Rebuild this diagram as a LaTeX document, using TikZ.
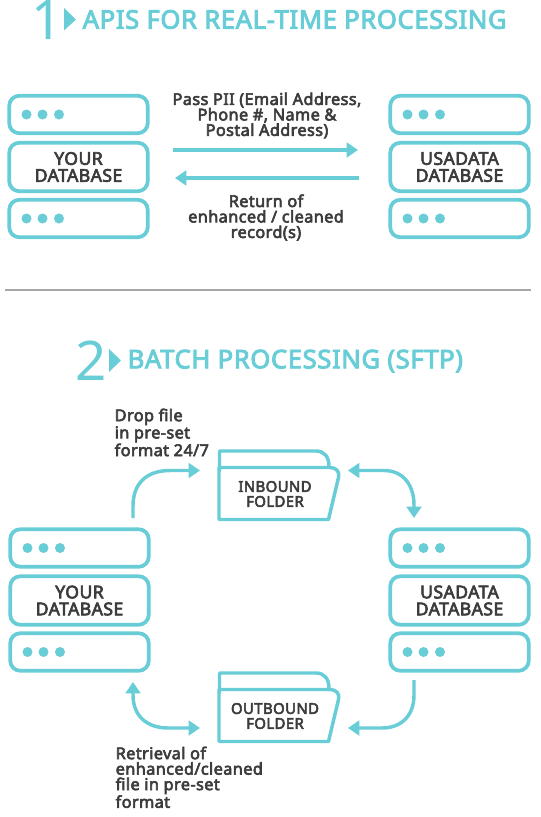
\documentclass[tikz,border=0pt]{standalone}
\usepackage{fontspec}
\setmainfont{Noto Sans}
\newfontfamily\semifont{Noto Sans}[FakeBold=3.6,LetterSpace=2.5]
\usetikzlibrary{arrows.meta}
\definecolor{teal1}{HTML}{68CDD6}
\definecolor{ink}{HTML}{3C3C3E}
\tikzset{
  server/.style={draw=teal1,line width=2.8pt,rounded corners=7.5pt,inner sep=0pt,fill=white,
    minimum width=138.5*0.75pt,text=ink,align=center,font=\fontsize{13.2}{12.7}\selectfont\semifont},
  lamp/.style={circle,fill=teal1,inner sep=0pt,minimum size=7.5pt},
  flow/.style={draw=teal1,line width=2.6pt,rounded corners=0pt},
  tipend/.style={-{Triangle[length=8.5pt,width=11pt]}},
  tipboth/.style={{Triangle[length=8.5pt,width=11pt]}-{Triangle[length=8.5pt,width=11pt]}},
  note/.style={text=ink,font=\fontsize{12.2}{11.6}\selectfont\semifont},
  foldertext/.style={text=ink,align=center,font=\fontsize{11.2}{11.2}\selectfont\semifont},
  folderline/.style={draw=teal1,line width=2.6pt,line join=round},
  heading/.style={text=teal1,anchor=west,font=\fontsize{19.2}{22}\selectfont\semifont},
  bignum/.style={text=teal1,anchor=center,font=\fontsize{41}{41}\selectfont},
}
\newcommand{\serverstack}[4]{% prefix, x centre, top y, database label
  \node[server,minimum height=37.5*0.75pt] (#1top) at (#2,#3+19.5) {};
  \node[server,minimum height=48.5*0.75pt] (#1mid) at (#2,#3+72) {#4};
  \node[server,minimum height=37.5*0.75pt] (#1bot) at (#2,#3+123.5) {};
  \foreach \row in {top,bot}
    \foreach \n/\dx in {a/-52,b/-36,c/-19.5}
      \node[lamp] (#1\row\n) at ([xshift=\dx*0.75pt]#1\row.center) {};
}
\newcommand{\folder}[2]{% name, y of top edge
  \draw[folderline] (219.5,#2+22) -- (219.5,#2+1.5) -- (316,#2+1.5)
    .. controls (324,#2+1.5) and (329,#2+7) .. (329,#2+17);
  \draw[folderline] (219,#2+18) -- (330,#2+18) .. controls (336,#2+18) and (340,#2+22) .. (338.5,#2+28)
    -- (328.5,#2+70) -- (219,#2+70) -- cycle;
}
\begin{document}
\begin{tikzpicture}[x=0.75pt,y=-0.75pt]
  \useasboundingbox (0,0) rectangle (540,817);

  % Section 1 heading
  \node[bignum] (numone) at (47,20) {1};
  \fill[teal1] (64,8) -- (76,19.5) -- (64,30.5) -- cycle;
  \node[heading] (titleone) at (78,19.5) {APIS FOR REAL-TIME PROCESSING};

  % Real-time servers
  \serverstack{ya}{78.5}{95}{YOUR\\DATABASE}
  \serverstack{ua}{459.5}{95}{USADATA\\DATABASE}

  % Real-time exchange
  \coordinate (passL) at (173,150);
  \coordinate (passR) at (358,150);
  \coordinate (backR) at (359,178);
  \coordinate (backL) at (175,178);
  \draw[flow,tipend] (passL) -- (passR);
  \draw[flow,tipend] (backR) -- (backL);
  \node[note,align=center] (passnote) at (267,115.5) {Pass PII (Email Address,\\Phone \#, Name \&\\Postal Address)};
  \node[note,align=center] (backnote) at (266,217.5) {Return of\\enhanced / cleaned\\record(s)};

  \draw[draw=black!35,line width=1.1pt] (5,290) -- (531,290);

  % Section 2 heading
  \node[bignum] (numtwo) at (91,361) {2};
  \fill[teal1] (109,349) -- (121,360.5) -- (109,372) -- cycle;
  \node[heading] (titletwo) at (123,361) {BATCH PROCESSING (SFTP)};

  % Batch servers
  \serverstack{yb}{79.5}{528.5}{YOUR\\DATABASE}
  \serverstack{ub}{459.5}{528.5}{USADATA\\DATABASE}

  % Folders
  \folder{inbound}{449.5}
  \folder{outbound}{671.5}
  \node[foldertext] (inbound) at (275,494) {INBOUND\\FOLDER};
  \node[foldertext] (outbound) at (275,716) {OUTBOUND\\FOLDER};

  % Batch flow ends stop short of the shapes
  \coordinate (dropA) at (133,518);
  \coordinate (dropB) at (200,470.5);
  \coordinate (inA) at (348,470.5);
  \coordinate (inB) at (414,518);
  \coordinate (outA) at (414,680);
  \coordinate (outB) at (348,728);
  \coordinate (getA) at (133,682);
  \coordinate (getB) at (200,728);

  \draw[flow,tipend] (dropA) -- (133,506) .. controls (133,483) and (147,470.5) .. (170,470.5) -- (dropB);
  \draw[flow,tipboth] (inA) -- (384,470.5) .. controls (403,470.5) and (414,485) .. (414,505) -- (inB);
  \draw[flow,tipend] (outA) -- (414,695) .. controls (414,716) and (401,728) .. (382,728) -- (outB);
  \draw[flow,tipboth] (getA) -- (133,695) .. controls (133,716) and (147,728) .. (168,728) -- (getB);

  \node[note,anchor=north west,align=left] (dropnote) at (110,404) {Drop file\\in pre-set\\format 24/7};
  \node[note,anchor=north west,align=left] (getnote) at (111,742) {Retrieval of\\enhanced/cleaned\\file in pre-set\\format};
\end{tikzpicture}
\end{document}
